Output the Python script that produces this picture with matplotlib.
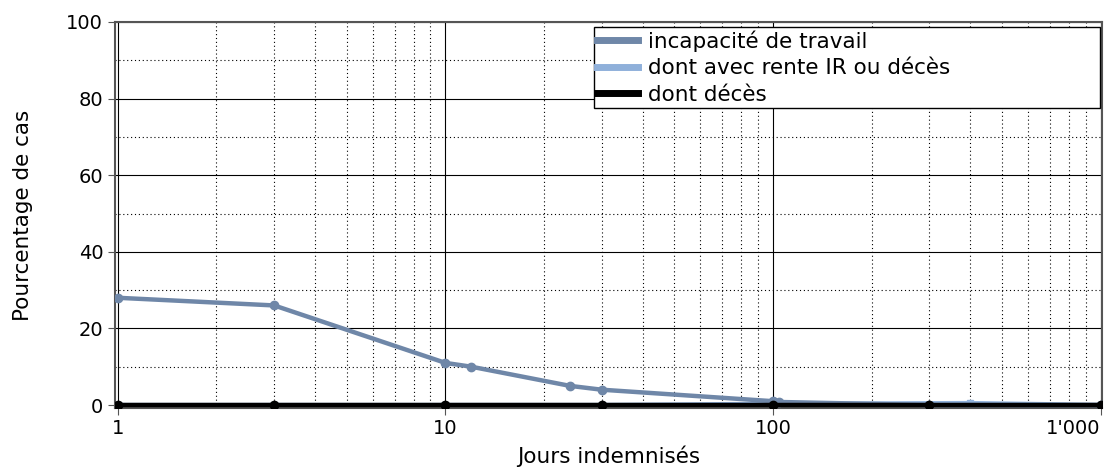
import matplotlib
matplotlib.use('Agg')
import matplotlib.pyplot as plt
from matplotlib.ticker import FixedLocator, FuncFormatter, LogLocator, NullFormatter

# === DATA ===
days_inc = [1, 3, 10, 12, 24, 30, 100, 104, 300, 1000]
pct_inc = [28, 26, 11, 10, 5, 4, 1, 0.8, 0, 0]

days_rente = [1, 3, 10, 30, 100, 400, 1000]
pct_rente = [0, 0, 0, 0, 0.3, 0.5, 0]

days_deces = [1, 3, 10, 30, 100, 300, 1000]
pct_deces = [0, 0, 0, 0, 0, 0, 0]

labels = ['incapacité de travail', 'dont avec rente IR ou décès', 'dont décès']
colors = ['#6f87a8', '#8fb0da', '#000000']

# === PLOT ===
plt.rcParams['font.family'] = ['DejaVu Sans']
FS = 14
fig = plt.figure(figsize=(11.09, 4.68), dpi=100)
ax = fig.add_axes([0.1037, 0.128, 0.89, 0.825])

ax.plot(days_inc, pct_inc, color=colors[0], lw=3.2, marker='o', ms=6, label=labels[0], zorder=3)
ax.plot(days_rente, pct_rente, color=colors[1], lw=3.2, marker='s', ms=5, label=labels[1], zorder=2)
ax.plot(days_deces, pct_deces, color=colors[2], lw=3.2, marker='o', ms=6, label=labels[2], zorder=4)

ax.set_xscale('log')
ax.set_xlim(0.98, 1010)
ax.set_ylim(-0.8, 100)

ax.xaxis.set_major_locator(FixedLocator([1, 10, 100, 1000]))
ax.xaxis.set_major_formatter(FuncFormatter(lambda v, p: f"{int(v):,}".replace(',', "'")))
ax.xaxis.set_minor_locator(LogLocator(base=10, subs=range(2, 10)))
ax.xaxis.set_minor_formatter(NullFormatter())
ax.set_yticks([0, 20, 40, 60, 80, 100])
ax.set_yticks([10, 30, 50, 70, 90], minor=True)

ax.grid(True, which='major', color='black', lw=0.8, ls='-')
ax.grid(True, which='minor', color='black', lw=0.8, ls=(0, (1, 2.5)))
ax.set_axisbelow(True)

ax.tick_params(which='major', direction='out', length=5, labelsize=FS, color='#555555')
ax.tick_params(which='minor', length=0)
ax.tick_params(axis='x', pad=3)
for s in ax.spines.values():
    s.set_color('#555555')
    s.set_linewidth(1.5)

fig.canvas.draw()
last = ax.get_xticklabels()[-1]
last.set_horizontalalignment('right')
last.set_x(1000)

ax.set_xlabel('Jours indemnisés', fontsize=15.5, labelpad=5)
ax.set_ylabel('Pourcentage de cas', fontsize=15.5, labelpad=24)

leg = ax.legend(loc='upper left', bbox_to_anchor=(0.485, 0.0, 0.513, 0.987), mode='expand',
                fontsize=15.5, frameon=True, fancybox=False, edgecolor='black', framealpha=1.0,
                handlelength=1.9, borderpad=0.15, labelspacing=0.3, borderaxespad=0.0,
                handletextpad=0.45)
leg.get_frame().set_linewidth(1.0)
for h in leg.get_lines():
    h.set_linewidth(5)
    h.set_marker('')

fig.savefig('out.png', dpi=100)
